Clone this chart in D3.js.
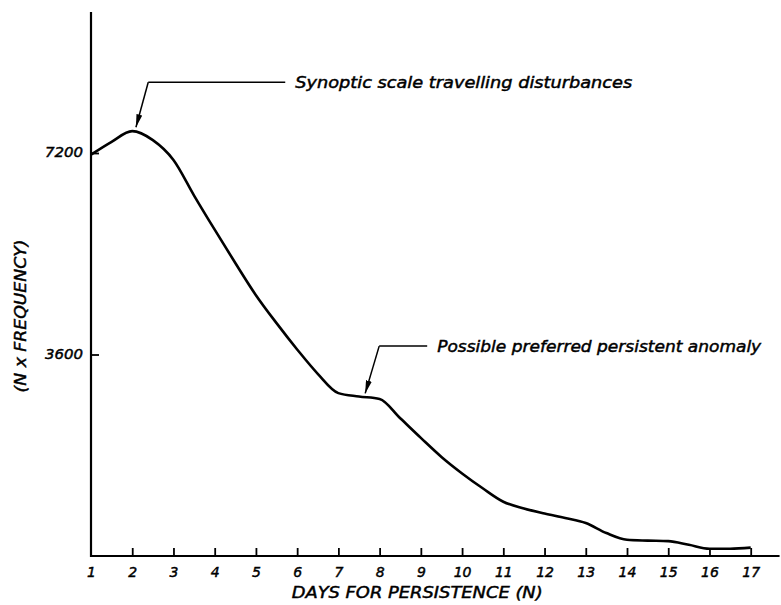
<!DOCTYPE html>
<html>
<head>
<meta charset="utf-8">
<script src="https://cdn.jsdelivr.net/npm/d3@7"></script>
<style>
  body { margin: 0; background: #fff; }
  text { font-family: "DejaVu Sans", sans-serif; font-style: italic; fill: #000; stroke: #000; stroke-width: 0.45px; }
</style>
</head>
<body>
<svg id="chart" width="781" height="605"></svg>
<script>
// Days of persistence (N) and N x frequency
const days = [1, 1.5, 2, 2.5, 3, 3.5, 4, 4.5, 5, 5.5, 6, 6.5, 7, 7.5, 8, 8.5, 9, 9.5,
              10, 10.5, 11, 11.5, 12, 12.5, 13, 13.5, 14, 14.5, 15, 15.5, 16, 16.5, 17];
const values = [7170, 7400, 7590, 7430, 7075, 6440, 5830, 5235, 4660, 4160, 3690, 3255,
                2910, 2850, 2805, 2460, 2110, 1770, 1475, 1210, 970, 850, 760, 680,
                590, 410, 290, 275, 265, 200, 130, 130, 150];

const xTicks = d3.range(1, 18);
const yTicks = [3600, 7200];

const xTitle = "DAYS FOR PERSISTENCE (N)";
const yTitle = "(N x FREQUENCY)";

// Annotation labels and the point on the curve each arrow indicates
const noteTexts = ["Synoptic scale travelling disturbances", "Possible preferred persistent anomaly"];
const noteDays = [2.09, 7.65];
const noteValues = [7660, 2905];

const svg = d3.select("#chart");

const x = d3.scaleLinear().domain([1, 17]).range([91, 750.7]);
const y = d3.scaleLinear().domain([0, 7200]).range([556, 153]);

// Axis lines
svg.append("line")
  .attr("x1", x(1)).attr("x2", x(1))
  .attr("y1", y(0) + 1).attr("y2", y(9720))
  .attr("stroke", "#000").attr("stroke-width", 2.2);
svg.append("line")
  .attr("x1", x(1) - 1).attr("x2", x(17.7))
  .attr("y1", y(0)).attr("y2", y(0))
  .attr("stroke", "#000").attr("stroke-width", 2.2);

// Bottom axis: inward ticks, italic lettering
const gx = svg.append("g")
  .attr("transform", `translate(0,${y(0)})`)
  .call(d3.axisBottom(x).tickValues(xTicks).tickSizeInner(-8).tickSizeOuter(0).tickPadding(11)
    .tickFormat(d3.format("d")));
gx.select(".domain").remove();
gx.selectAll(".tick line").attr("stroke", "#000").attr("stroke-width", 1.8)
  .filter(d => d === 1).remove();
gx.selectAll(".tick text").attr("font-size", 14).attr("font-family", null).attr("fill", "#000");

// Left axis
const gy = svg.append("g")
  .attr("transform", `translate(${x(1)},0)`)
  .call(d3.axisLeft(y).tickValues(yTicks).tickSizeInner(-8).tickSizeOuter(0).tickPadding(8)
    .tickFormat(d3.format("d")));
gy.select(".domain").remove();
gy.selectAll(".tick line").attr("stroke", "#000").attr("stroke-width", 1.8);
gy.selectAll(".tick text").attr("font-size", 14).attr("font-family", null).attr("fill", "#000")
  .attr("dy", "0.28em")
  .attr("textLength", 38).attr("lengthAdjust", "spacingAndGlyphs");

// Axis titles
svg.append("text")
  .attr("x", 291.7).attr("y", 598)
  .attr("font-size", 15)
  .attr("textLength", 251).attr("lengthAdjust", "spacingAndGlyphs")
  .text(xTitle);
svg.append("text")
  .attr("transform", "translate(26,316) rotate(-90)")
  .attr("text-anchor", "middle")
  .attr("font-size", 15)
  .attr("textLength", 153).attr("lengthAdjust", "spacingAndGlyphs")
  .text(yTitle);

// Data curve
const line = d3.line()
  .x((d, i) => x(days[i]))
  .y(d => y(d))
  .curve(d3.curveMonotoneX);
svg.append("path")
  .attr("d", line(values))
  .attr("fill", "none")
  .attr("stroke", "#000")
  .attr("stroke-width", 2.6)
  .attr("stroke-linejoin", "round");

// Arrowhead marker
svg.append("defs").append("marker")
  .attr("id", "arrow")
  .attr("viewBox", "0 0 13 6")
  .attr("refX", 13).attr("refY", 3)
  .attr("markerWidth", 13).attr("markerHeight", 6)
  .attr("markerUnits", "userSpaceOnUse")
  .attr("orient", "auto")
  .append("path")
  .attr("d", "M0,0 L13,3 L0,6 Z")
  .attr("fill", "#000");

// Leader lines: horizontal run to the label, then a slanted arrow to the curve
const leaderRuns = [[12.3, -45, 137], [14, -47.3, 48]];
const labelGaps = [10, 10];
const labelLengths = [337, 324];
noteTexts.forEach((t, i) => {
  const tx = x(noteDays[i]);
  const ty = y(noteValues[i]);
  const [dx, dy, run] = leaderRuns[i];
  const bx = tx + dx, by = ty + dy;
  svg.append("line")
    .attr("x1", bx).attr("y1", by).attr("x2", bx + run).attr("y2", by)
    .attr("stroke", "#000").attr("stroke-width", 1.5);
  svg.append("line")
    .attr("x1", bx).attr("y1", by).attr("x2", tx).attr("y2", ty)
    .attr("stroke", "#000").attr("stroke-width", 1.5)
    .attr("marker-end", "url(#arrow)");
  svg.append("text")
    .attr("x", bx + run + labelGaps[i]).attr("y", by + 6)
    .attr("font-size", 15)
    .attr("textLength", labelLengths[i]).attr("lengthAdjust", "spacingAndGlyphs")
    .text(t);
});
</script>
</body>
</html>
